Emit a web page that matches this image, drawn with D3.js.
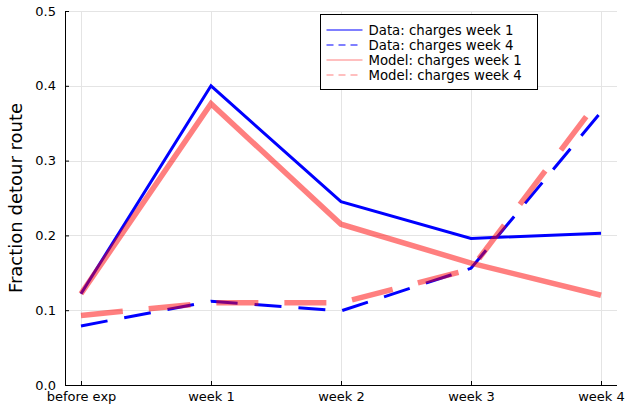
<!DOCTYPE html>
<html>
<head>
<meta charset="utf-8">
<script src="https://cdn.jsdelivr.net/npm/d3@7"></script>
<style>
  html, body { margin: 0; padding: 0; background: #fff; }
  svg { display: block; font-family: "DejaVu Sans", sans-serif; }
</style>
</head>
<body>
<div id="chart"></div>
<script>
// categories on the x axis
const periods = ['before exp', 'week 1', 'week 2', 'week 3', 'week 4'];
const yTicks = [0.0, 0.1, 0.2, 0.3, 0.4, 0.5];

// series values
const dataWeek1 = [0.122, 0.400, 0.245, 0.196, 0.203];
const dataWeek4 = [0.079, 0.112, 0.099, 0.156, 0.365];
const modelWeek1 = [0.122, 0.376, 0.215, 0.163, 0.120];
const modelWeek4 = [0.093, 0.110, 0.110, 0.155, 0.385];

const seriesNames = [
  'Data: charges week 1',
  'Data: charges week 4',
  'Model: charges week 1',
  'Model: charges week 4'
];

const W = 626, H = 413;
const plot = { left: 65, right: 617, top: 11, bottom: 385 };

const svg = d3.select('#chart').append('svg')
  .attr('width', W).attr('height', H);

const x = d3.scalePoint()
  .domain(periods)
  .range([plot.left, plot.right])
  .padding(0.123);

const y = d3.scaleLinear()
  .domain([0, 0.5])
  .range([plot.bottom, plot.top]);

// grid
const grid = svg.append('g').attr('stroke', '#e4e4e4').attr('stroke-width', 1);
grid.selectAll('.gx').data(periods).join('line')
  .attr('x1', d => Math.round(x(d)) + 0.5).attr('x2', d => Math.round(x(d)) + 0.5)
  .attr('y1', plot.top).attr('y2', plot.bottom);
grid.selectAll('.gy').data(yTicks).join('line')
  .attr('x1', plot.left).attr('x2', plot.right)
  .attr('y1', d => Math.round(y(d)) + 0.5).attr('y2', d => Math.round(y(d)) + 0.5);

// axes
const xAxis = svg.append('g')
  .attr('transform', `translate(0,${plot.bottom})`)
  .call(d3.axisBottom(x).tickSize(-4).tickSizeOuter(0).tickPadding(7));
const yAxis = svg.append('g')
  .attr('transform', `translate(${plot.left},0)`)
  .call(d3.axisLeft(y).tickValues(yTicks).tickFormat(d3.format('.1f'))
    .tickSize(-4).tickSizeOuter(0).tickPadding(9));

[xAxis, yAxis].forEach(a => {
  a.select('.domain').remove();
  a.selectAll('text').attr('font-size', 13).attr('fill', '#000')
    .attr('font-family', '"DejaVu Sans", sans-serif');
  a.selectAll('.tick line').attr('stroke', '#000');
});

svg.append('line')
  .attr('x1', plot.left).attr('x2', plot.right)
  .attr('y1', plot.bottom + 0.5).attr('y2', plot.bottom + 0.5)
  .attr('stroke', '#000');
svg.append('line')
  .attr('x1', plot.left + 0.5).attr('x2', plot.left + 0.5)
  .attr('y1', plot.top).attr('y2', plot.bottom + 1)
  .attr('stroke', '#000');

// y label
svg.append('text')
  .attr('transform', `translate(22,${(plot.top + plot.bottom) / 2}) rotate(-90)`)
  .attr('text-anchor', 'middle')
  .attr('font-size', 18)
  .text('Fraction detour route');

// lines
const styles = [
  { values: dataWeek1, color: 'blue', opacity: 1, width: 3, dash: null },
  { values: dataWeek4, color: 'blue', opacity: 1, width: 3, dash: '27 17' },
  { values: modelWeek1, color: 'red', opacity: 0.5, width: 5.5, dash: null },
  { values: modelWeek4, color: 'red', opacity: 0.5, width: 5.5, dash: '42 26' }
];

const line = d3.line()
  .x((d, i) => x(periods[i]))
  .y(d => y(d));

styles.forEach(s => {
  svg.append('path')
    .datum(s.values)
    .attr('d', line)
    .attr('fill', 'none')
    .attr('stroke', s.color)
    .attr('stroke-opacity', s.opacity)
    .attr('stroke-width', s.width)
    .attr('stroke-dasharray', s.dash)
    .attr('stroke-linejoin', 'miter');
});

// legend
const lg = svg.append('g').attr('transform', 'translate(320.5,14.5)');
lg.append('rect')
  .attr('width', 217).attr('height', 75)
  .attr('fill', '#fff').attr('stroke', '#000').attr('stroke-width', 1);

styles.forEach((s, i) => {
  const yy = 15.5 + i * 15;
  lg.append('line')
    .attr('x1', 6).attr('x2', 42)
    .attr('y1', yy).attr('y2', yy)
    .attr('stroke', s.color)
    .attr('stroke-opacity', s.opacity)
    .attr('stroke-width', 1.2)
    .attr('stroke-dasharray', s.dash ? '7 5' : null);
  lg.append('text')
    .attr('x', 48).attr('y', yy)
    .attr('dy', '0.35em')
    .attr('font-size', 13.3)
    .text(seriesNames[i]);
});
</script>
</body>
</html>
